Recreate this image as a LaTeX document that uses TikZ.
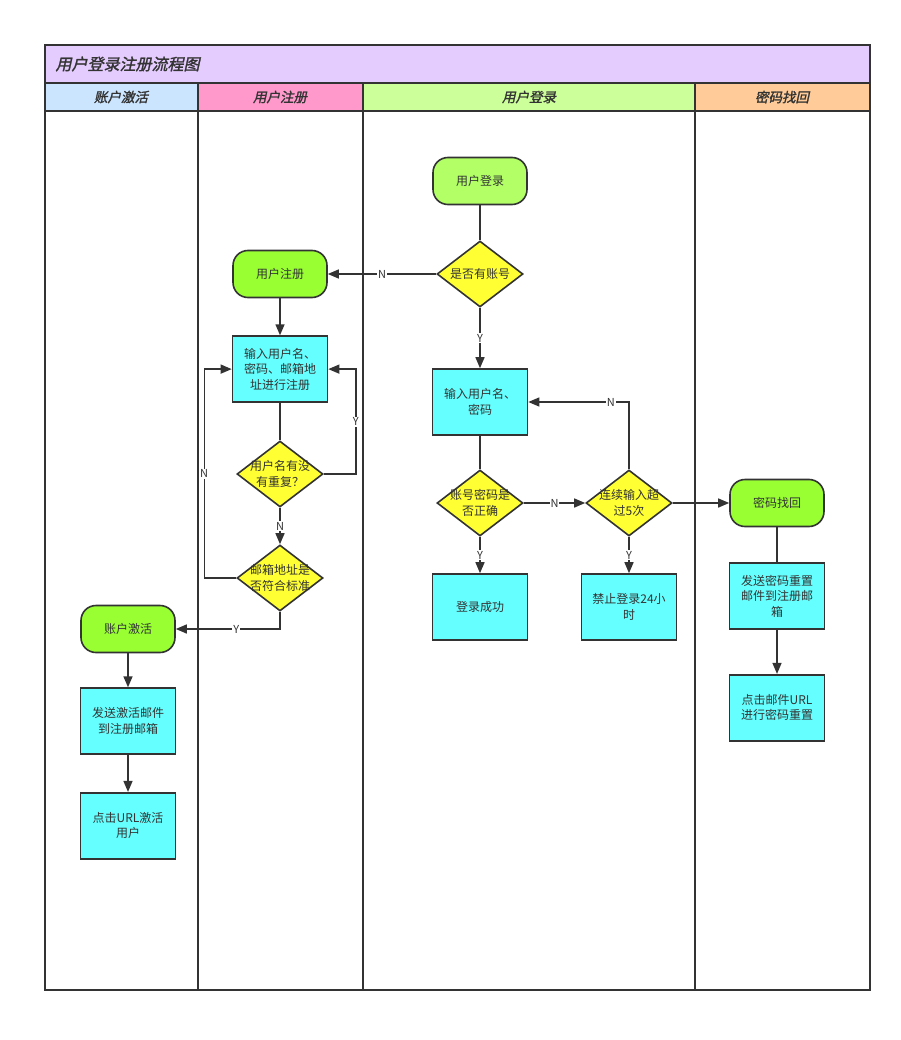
\documentclass[tikz,border=0pt]{standalone}
\usepackage{fontspec}
\setmainfont{Noto Sans CJK SC}
\newfontfamily\cjkhead[FakeSlant=0.22,FakeBold=1.5]{Noto Sans CJK SC}
\usetikzlibrary{arrows.meta,positioning,shapes.geometric}
\definecolor{ink}{HTML}{333333}
\definecolor{titlebg}{HTML}{E5CCFF}
\definecolor{laneA}{HTML}{CCE5FF}
\definecolor{laneB}{HTML}{FF99CC}
\definecolor{laneC}{HTML}{CCFF99}
\definecolor{laneD}{HTML}{FFCC99}
\definecolor{startbg}{HTML}{B2FF66}
\definecolor{termbg}{HTML}{99FF33}
\definecolor{procbg}{HTML}{66FFFF}
\definecolor{decbg}{HTML}{FFFF33}

\begin{document}
\begin{tikzpicture}[x=1pt,y=-1pt,node distance=37pt,>={Triangle[length=11pt,width=9pt]},
 every node/.style={font=\fontsize{12}{15.5}\selectfont,text=ink,align=center},
 term/.style={draw=ink,line width=1.6pt,fill=termbg,rounded corners=15pt,
   minimum width=94pt,minimum height=47pt},
 proc/.style={draw=ink,line width=1.6pt,fill=procbg,minimum width=95pt,
   minimum height=66pt,inner sep=2pt},
 decide/.style={diamond,draw=ink,line width=1.6pt,fill=decbg,
   minimum width=86pt,minimum height=66pt,inner sep=0pt},
 flow/.style={draw=ink,line width=1.4pt},
 tag/.style={fill=white,inner sep=1pt,font=\fontsize{11}{12}\selectfont},
 head/.style={font=\cjkhead\fontsize{13.5}{15}\selectfont}]
    \useasboundingbox[fill=white] (0,0) rectangle (900,1040);
    % swimlanes
    \fill[titlebg] (45,45) rectangle (870,83);
    \fill[laneA] (45,83) rectangle (198,111);
    \fill[laneB] (198,83) rectangle (363,111);
    \fill[laneC] (363,83) rectangle (695,111);
    \fill[laneD] (695,83) rectangle (870,111);
    \draw[ink,line width=1.6pt] (45,45) rectangle (870,990);
    \draw[ink,line width=1.6pt] (45,83) -- (870,83) (45,111) -- (870,111);
    \foreach \x in {198,363,695}
        \draw[ink,line width=1.6pt] (\x,83) -- (\x,990);
    \node[head,font=\cjkhead\fontsize{16}{18}\selectfont,anchor=west] (title)
        at (52,64) {用户登录注册流程图};
    \node[head] (hAct) at (121,97) {账户激活};
    \node[head] (hReg) at (280,97) {用户注册};
    \node[head] (hLog) at (529,97) {用户登录};
    \node[head] (hFind) at (782,97) {密码找回};

    % user login lane
    \node[term,fill=startbg] (start) at (480,181) {用户登录};
    \node[decide,label={center:是否有账号}] (hasAcc) at (480,274) {};
    \node[proc] (inLogin) at (480,402) {输入用户名、\\密码};
    \node[decide,label={center:{账号密码是\\否正确}}] (pwOk) at (480,503) {};
    \node[decide,label={center:{连续输入超\\过5次}}] (tooMany) at (629,503) {};
    \node[proc] (ok) at (480,607) {登录成功};
    \node[proc] (ban) at (629,607) {禁止登录24小\\时};

    % password lane
    \node[term] (find) at (777,503) {密码找回};
    \node[proc,below=35pt of find] (sendPw) {发送密码重置\\邮件到注册邮\\箱};
    \node[proc,below=44pt of sendPw] (clickPw) {点击邮件URL\\进行密码重置};

    % register lane
    \node[term] (reg) at (280,274) {用户注册};
    \node[proc,below=of reg] (inReg) {输入用户名、\\密码、邮箱地\\址进行注册};
    \node[decide,label={center:{用户名有没\\有重复？}}] (dup) at (280,474) {};
    \node[decide,label={center:{邮箱地址是\\否符合标准}}] (mailOk) at (280,578) {};

    % activation lane
    \node[term] (act) at (128,629) {账户激活};
    \node[proc,below=34pt of act] (sendAct) {发送激活邮件\\到注册邮箱};
    \node[proc,below=of sendAct] (clickAct) {点击URL激活\\用户};

    % connectors
    \draw[flow] (start) -- (hasAcc);
    \draw[flow,->] (hasAcc.west) -- node[tag]{N} (reg.east);
    \draw[flow,->] (hasAcc.south) -- node[tag]{Y} (inLogin.north);
    \draw[flow] (inLogin) -- (pwOk);
    \draw[flow,->] (pwOk.east) -- node[tag]{N} (tooMany.west);
    \draw[flow,->] (tooMany.north) |- node[tag,pos=0.59]{N} (inLogin.east);
    \draw[flow,->] (tooMany.east) -- (find.west);
    \draw[flow,->] (pwOk.south) -- node[tag]{Y} (ok.north);
    \draw[flow,->] (tooMany.south) -- node[tag]{Y} (ban.north);
    \draw[flow] (find) -- (sendPw);
    \draw[flow,->] (sendPw) -- (clickPw);
    \draw[flow,->] (reg) -- (inReg);
    \draw[flow] (inReg) -- (dup);
    \draw[flow,->] (dup.east) -- ++(32,0) |- node[tag,pos=0.25]{Y} (inReg.east);
    \draw[flow,->] (dup.south) -- node[tag]{N} (mailOk.north);
    \draw[flow,->] (mailOk.west) -- ++(-32,0) |- node[tag,pos=0.25]{N} (inReg.west);
    \draw[flow,->] (mailOk.south) |- node[tag,pos=0.71]{Y} (act.east);
    \draw[flow,->] (act) -- (sendAct);
    \draw[flow,->] (sendAct) -- (clickAct);
\end{tikzpicture}
\end{document}
